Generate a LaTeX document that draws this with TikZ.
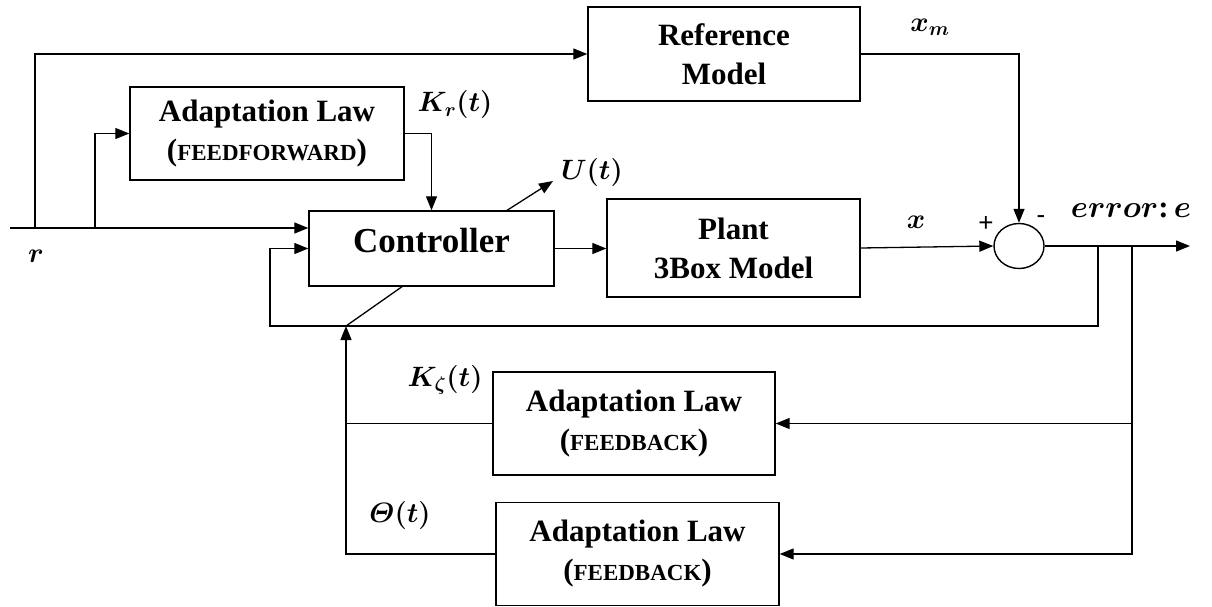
\RequirePackage{fix-cm}
\documentclass[tikz,border=0pt]{standalone}
\usepackage{fontspec}
\setmainfont{Liberation Serif}
\newfontfamily\signfont{Liberation Sans}
\usepackage{amsmath}
\usepackage{bm}
\usetikzlibrary{arrows.meta,shapes.geometric,calc}

% smaller capitals used inside the parentheses of the adaptation blocks
\newcommand\capsword[1]{{\fontsize{23}{23}\selectfont #1}}

\tikzset{
  blk/.style={draw, line width=1.4pt, align=center, inner sep=0pt,
              font=\bfseries\fontsize{31}{39}\selectfont},
  wire/.style={line width=1.3pt},
  arr/.style={wire, -{Triangle[length=14pt,width=11pt]}},
  lbl/.style={inner sep=0pt, font=\fontsize{28}{30}\selectfont},
  sign/.style={inner sep=0pt, font=\signfont\fontsize{26}{26}\selectfont}
}

\begin{document}
\begin{tikzpicture}[x=1pt,y=-1pt]
\useasboundingbox (0,0) rectangle (1212,607);

% blocks
\node[blk, minimum width=272pt, minimum height=94pt] (ref) at (724,54) {Reference\\Model};
\node[blk, minimum width=274pt, minimum height=93pt] (ff) at (267,133.5) {Adaptation Law\\(\capsword{FEEDFORWARD})};
\node[blk, minimum width=245pt, minimum height=75pt] (ctrl) at (431.5,248.5) {};
\node[inner sep=0pt, font=\bfseries\fontsize{35}{40}\selectfont] (ctrltxt) at (431.5,241) {Controller};
\node[blk, minimum width=253pt, minimum height=98pt] (plant) at (733.5,248) {Plant\\3Box Model};
\node[draw, ellipse, line width=1.4pt, minimum width=50pt, minimum height=45pt, inner sep=0pt] (sum) at (1019,246) {};
\node[blk, minimum width=282pt, minimum height=103pt] (fb1) at (634,423.5) {Adaptation Law\\(\capsword{FEEDBACK})};
\node[blk, minimum width=283pt, minimum height=103pt] (fb2) at (637.5,554) {Adaptation Law\\(\capsword{FEEDBACK})};

% junctions and free ends
\coordinate (rin) at (10,228);
\coordinate (rj1) at (35,228);
\coordinate (rj2) at (95,228);
\coordinate (eout) at (1190,246);
\coordinate (e1) at (1098,246);
\coordinate (e2) at (1132,246);
\coordinate (fbr) at (1098,326);
\coordinate (fbl) at (270,326);
\coordinate (j) at (346,326);
\coordinate (cs) at (403,286);
\coordinate (us) at (506,211);
\coordinate (uo) at (553,181);

% reference input and its branches
\draw[arr] (rin) -- (rin -| ctrl.west);
\draw[arr] (rj1) |- (ref.west);
\draw[arr] (rj2) |- (ff.west);
\draw[arr] (ff.east) -| (ctrl.north);

% forward path
\draw[arr] (ctrl.east) -- (ctrl.east -| plant.west);
\draw[arr] (plant.east) -- (sum.west);
\draw[arr] (ref.east) -| (sum.north);
\draw[arr] (sum.east) -- (eout);
\draw[arr] (us) -- (uo);

% error feedback to the controller
\draw[arr] (e1) -- (fbr) -- (fbl) |- (ctrl.west);

% error to the feedback adaptation laws
\draw[arr] (e2) |- (fb1.east);
\draw[arr] (e2) |- (fb2.east);

% adapted gains back to the controller
\draw[wire] (fb1.west) -- (fb1.west -| j);
\draw[arr] (fb2.west) -| (j);
\draw[wire] (j) -- (cs);

% signal labels
\node[lbl] (lr) at (36,256) {$\bm{r}$};
\node[lbl] (lxm) at (930,27) {$\bm{x_m}$};
\node[lbl] (lkr) at (455,105) {$\bm{K_r(t)}$};
\node[lbl] (lu) at (592,172) {$\bm{U(t)}$};
\node[lbl] (lx) at (916,222) {$\bm{x}$};
\node[sign] (plus) at (986,224) {+};
\node[sign] (minus) at (1041,220) {-};
\node[lbl, font=\fontsize{31}{32}\selectfont] (lerr) at (1131,210) {$\bm{error}$\textbf{:}\,$\bm{e}$};
\node[lbl] (lkz) at (445,380) {$\bm{K_\zeta(t)}$};
\node[lbl] (lth) at (400,515) {$\bm{\varTheta(t)}$};
\end{tikzpicture}
\end{document}
